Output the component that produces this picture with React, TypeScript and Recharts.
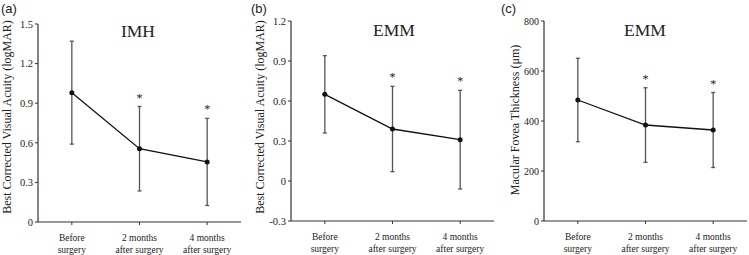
import React from 'react';
import { LineChart, Line, XAxis, YAxis, ErrorBar, LabelList } from 'recharts';

// ---- data ----
const categoryLine1 = ['Before', '2 months', '4 months'];
const categoryLine2 = ['surgery', 'after surgery', 'after surgery'];
const significant = [false, true, true];

const imhMean = [0.98, 0.555, 0.455];
const imhSd = [0.39, 0.32, 0.33];

const emmBcvaMean = [0.65, 0.39, 0.31];
const emmBcvaSd = [0.29, 0.32, 0.37];

const emmCftMean = [484, 384, 364];
const emmCftSd = [167, 149, 150];

const imhTicks = [0, 0.3, 0.6, 0.9, 1.2, 1.5];
const bcvaTicks = [-0.3, 0, 0.3, 0.6, 0.9, 1.2];
const cftTicks = [0, 200, 400, 600, 800];

const SERIF = '"Liberation Serif", "Times New Roman", serif';
const SANS = '"Liberation Sans", Arial, sans-serif';
const AXIS = '#333';
const ERR = '#555';

function build(mean: number[], sd: number[]) {
  return categoryLine1.map((c, i) => ({
    name: c,
    line2: categoryLine2[i],
    mean: mean[i],
    err: sd[i],
    upper: mean[i] + sd[i],
    sig: significant[i],
  }));
}

const XTick = (props: any) => {
  const { x, y, index } = props;
  return (
    <text x={x} y={y} textAnchor="middle" fontFamily={SERIF} fontSize={9.5} fill="#222">
      <tspan x={x} dy={14}>{categoryLine1[index]}</tspan>
      <tspan x={x} dy={12}>{categoryLine2[index]}</tspan>
    </text>
  );
};

const StarLabel = (props: any) => {
  const { x, y, index } = props;
  if (!significant[index]) return null;
  return (
    <text x={x} y={y - 5} textAnchor="middle" fontFamily={SERIF} fontSize={12} fill="#222">
      *
    </text>
  );
};

type PanelProps = {
  left: number;
  width: number;
  yWidth: number;
  top: number;
  right: number;
  xHeight: number;
  domain: [number, number];
  ticks: number[];
  mean: number[];
  sd: number[];
  panel: string;
  title: string;
  titleX: number;
  titleY: number;
  yLabel: string;
  yLabelX: number;
  yLabelY: number;
  tickFontSize: number;
};

function Panel(p: PanelProps) {
  const data = build(p.mean, p.sd);
  return (
    <div style={{ position: 'absolute', left: p.left, top: 0, width: p.width, height: 255 }}>
      <LineChart
        width={p.width}
        height={255}
        data={data}
        margin={{ top: p.top, right: p.right, left: 0, bottom: 0 }}
      >
        <XAxis
          dataKey="name"
          scale="band"
          height={p.xHeight}
          tick={<XTick />}
          tickLine={{ stroke: AXIS }}
          axisLine={{ stroke: AXIS, strokeWidth: 1.2 }}
          tickSize={3}
          interval={0}
        />
        <YAxis
          width={p.yWidth}
          domain={p.domain}
          ticks={p.ticks}
          allowDataOverflow
          tickSize={3}
          tickLine={{ stroke: AXIS }}
          axisLine={{ stroke: AXIS, strokeWidth: 1.2 }}
          tick={{ fontFamily: SERIF, fontSize: p.tickFontSize, fill: '#222' }}
        />
        <Line
          dataKey="upper"
          stroke="none"
          dot={false}
          activeDot={false}
          isAnimationActive={false}
        >
          <LabelList dataKey="upper" content={<StarLabel />} />
        </Line>
        <Line
          dataKey="mean"
          stroke="#111"
          strokeWidth={1.3}
          dot={{ r: 2.5, fill: '#111', stroke: '#111', strokeWidth: 0 }}
          activeDot={false}
          isAnimationActive={false}
        >
          <ErrorBar dataKey="err" width={2} stroke={ERR} strokeWidth={1.3} direction="y" />
        </Line>
      </LineChart>
      <svg
        width={p.width}
        height={255}
        style={{ position: 'absolute', left: 0, top: 0, pointerEvents: 'none' }}
      >
        <text x={1} y={13} fontFamily={SANS} fontSize={13} fill="#222">
          {p.panel}
        </text>
        <text x={p.titleX} y={p.titleY} textAnchor="middle" fontFamily={SERIF} fontSize={17.5} fill="#222">
          {p.title}
        </text>
        <text
          x={p.yLabelX}
          y={p.yLabelY}
          textAnchor="middle"
          dominantBaseline="central"
          fontFamily={SERIF}
          fontSize={12}
          fill="#222"
          transform={`rotate(-90 ${p.yLabelX} ${p.yLabelY})`}
        >
          {p.yLabel}
        </text>
      </svg>
    </div>
  );
}

export default function App() {
  return (
    <div style={{ position: 'absolute', left: 0, top: 0, width: 749, height: 255, background: '#fff' }}>
      <Panel
        left={0}
        width={250}
        yWidth={38}
        top={24}
        right={9}
        xHeight={33}
        domain={[0, 1.5]}
        ticks={imhTicks}
        mean={imhMean}
        sd={imhSd}
        panel="(a)"
        title="IMH"
        titleX={138}
        titleY={37}
        yLabel="Best Corrected Visual Acuity (logMAR)"
        yLabelX={7}
        yLabelY={117}
        tickFontSize={10.5}
      />
      <Panel
        left={250}
        width={250}
        yWidth={41}
        top={21}
        right={6}
        xHeight={34}
        domain={[-0.3, 1.2]}
        ticks={bcvaTicks}
        mean={emmBcvaMean}
        sd={emmBcvaSd}
        panel="(b)"
        title="EMM"
        titleX={144}
        titleY={36}
        yLabel="Best Corrected Visual Acuity (logMAR)"
        yLabelX={10}
        yLabelY={117}
        tickFontSize={10.5}
      />
      <Panel
        left={500}
        width={249}
        yWidth={44}
        top={21}
        right={2}
        xHeight={34}
        domain={[0, 800]}
        ticks={cftTicks}
        mean={emmCftMean}
        sd={emmCftSd}
        panel="(c)"
        title="EMM"
        titleX={145}
        titleY={36}
        yLabel="Macular Fovea Thickness (μm)"
        yLabelX={15}
        yLabelY={120}
        tickFontSize={10}
      />
    </div>
  );
}
